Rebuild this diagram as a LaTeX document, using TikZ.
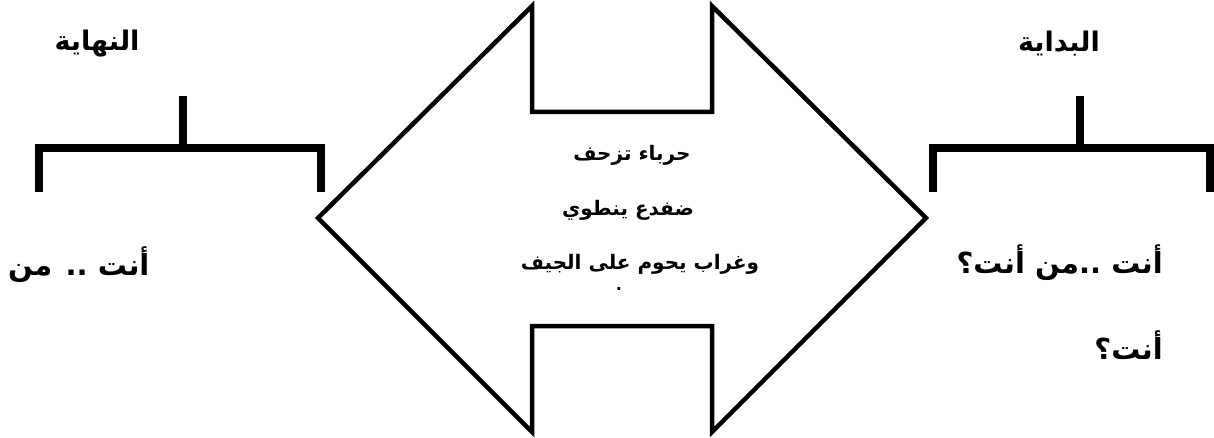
\documentclass[tikz,border=0pt]{standalone}
\usepackage{fontspec}
\newfontfamily\arabicfont[Script=Arabic]{DejaVu Sans}
\TeXXeTstate=1
\begin{document}
\begin{tikzpicture}[x=1pt,y=-1pt,
  bracketline/.style={line width=7.5pt, line cap=butt, line join=miter},
  arrowline/.style={line width=4.5pt, line join=miter},
  lbl/.style={font=\arabicfont\bfseries\fontsize{27}{31}\selectfont, inner sep=0pt},
  sidetext/.style={font=\arabicfont\bfseries\fontsize{29}{33}\selectfont, inner sep=0pt},
  ctext/.style={font=\arabicfont\bfseries\fontsize{20}{24}\selectfont, inner sep=0pt}]
\useasboundingbox (0,0) rectangle (1214,438);
% double arrow shape
\coordinate (tl) at (532,6);
\coordinate (tr) at (712,6);
\coordinate (rt) at (926,218);
\coordinate (br) at (712,432);
\coordinate (bl) at (532,432);
\coordinate (lt) at (318,218);
\draw[arrowline] (tl) -- (532,112) -- (712,112) -- (tr) -- (rt) -- (br) -- (712,326) -- (532,326) -- (bl) -- (lt) -- cycle;
% left bracket
\coordinate (lb1) at (39,192);
\coordinate (lb2) at (321,192);
\coordinate (lbs) at (183,96);
\draw[bracketline] (lb1) -- (39,148) -- (321,148) -- (lb2);
\draw[bracketline] (183,148) -- (lbs);
% right bracket
\coordinate (rb1) at (933,192);
\coordinate (rb2) at (1210,192);
\coordinate (rbs) at (1080,96);
\draw[bracketline] (rb1) -- (933,148) -- (1210,148) -- (rb2);
\draw[bracketline] (1080,148) -- (rbs);
% labels
\node[lbl] (endlbl) at (97,44) {\beginR النهاية\endR};
\node[lbl] (startlbl) at (1059,44) {\beginR البداية\endR};
\node[sidetext, anchor=west] (lefttext) at (8,265) {\beginR أنت .. من\endR};
\node[sidetext, anchor=east] (rline1) at (1163,263) {\beginR أنت ..من أنت؟\endR};
\node[sidetext, anchor=east] (rline2) at (1163,345) {\beginR أنت؟\endR};
% centre text
\node[ctext] (c1) at (632,155) {\beginR حرباء تزحف\endR};
\node[ctext] (c2) at (628,210) {\beginR ضفدع ينطوي\endR};
\node[ctext] (c3) at (640,264) {\beginR وغراب يحوم على الجيف\endR};
\node[ctext, font=\arabicfont\bfseries\fontsize{16}{18}\selectfont] (c4) at (619,289) {.};
\end{tikzpicture}
\end{document}
